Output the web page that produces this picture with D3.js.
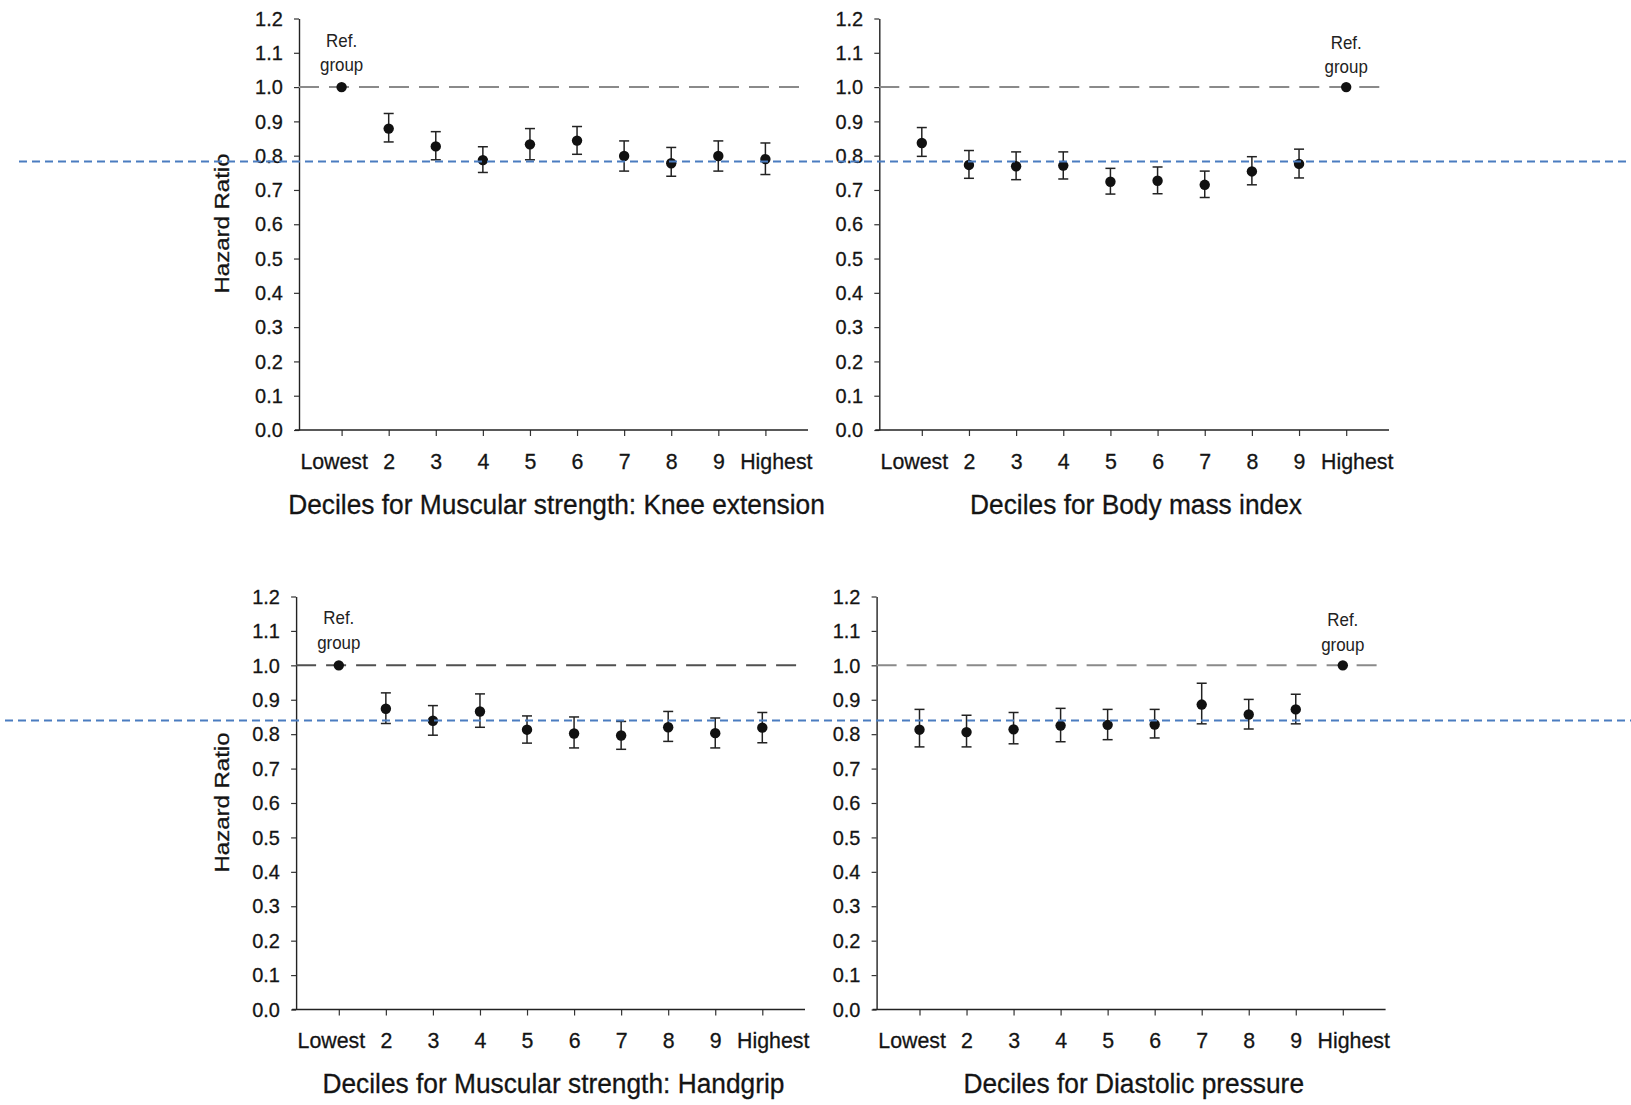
<!DOCTYPE html>
<html><head><meta charset="utf-8">
<script src="https://cdn.jsdelivr.net/npm/d3@7"></script>
<style>body{margin:0;background:#fff} svg{display:block;background:#fff}</style>
</head><body><svg id="c" width="1631" height="1105"></svg>
<script>
// ---------- data ----------
const deciles = ["Lowest","2","3","4","5","6","7","8","9","Highest"];
const yTicks = [0,0.1,0.2,0.3,0.4,0.5,0.6,0.7,0.8,0.9,1.0,1.1,1.2];

const kneeHR = [1.00, 0.879, 0.827, 0.787, 0.833, 0.844, 0.799, 0.778, 0.799, 0.790];
const kneeLo = [null, 0.840, 0.788, 0.751, 0.788, 0.804, 0.755, 0.740, 0.755, 0.745];
const kneeHi = [null, 0.923, 0.870, 0.826, 0.879, 0.885, 0.843, 0.824, 0.843, 0.837];

const bmiHR = [0.837, 0.773, 0.769, 0.771, 0.724, 0.727, 0.715, 0.754, 0.776, 1.00];
const bmiLo = [0.798, 0.734, 0.730, 0.732, 0.688, 0.689, 0.678, 0.715, 0.735, null];
const bmiHi = [0.882, 0.815, 0.811, 0.811, 0.763, 0.767, 0.755, 0.797, 0.819, null];

const handHR = [1.00, 0.874, 0.839, 0.866, 0.813, 0.802, 0.796, 0.820, 0.803, 0.819];
const handLo = [null, 0.831, 0.797, 0.820, 0.774, 0.760, 0.756, 0.779, 0.760, 0.775];
const handHi = [null, 0.920, 0.883, 0.917, 0.853, 0.850, 0.837, 0.866, 0.847, 0.863];

const diaHR = [0.813, 0.806, 0.814, 0.825, 0.827, 0.828, 0.886, 0.857, 0.872, 1.00];
const diaLo = [0.763, 0.763, 0.772, 0.778, 0.784, 0.789, 0.830, 0.815, 0.830, null];
const diaHi = [0.872, 0.855, 0.863, 0.875, 0.872, 0.872, 0.948, 0.901, 0.916, null];

const titles = ["Deciles for Muscular strength: Knee extension", "Deciles for Body mass index",
                "Deciles for Muscular strength: Handgrip", "Deciles for Diastolic pressure"];
const refIndex = [0, 9, 0, 9];
const yTitle = "Hazard Ratio";
const refLabel = ["Ref.", "group"];
const blueRefTop = 0.783;
const blueRefBottom = 0.84;

// ---------- layout ----------
const FONT = "'Liberation Sans', Arial, Helvetica, sans-serif";
const layout = [
  {ax:299,   y0:430,    y12:18.5,  xL:341.6, xH:765.4,  xR:808,    gEnd:803,    gCol:"#8a8a8a", tx:556.5, ty:514,  refDy:[-40.5,-16], yt:[229,223.5]},
  {ax:879.3, y0:430,    y12:18.5,  xL:921.8, xH:1346.2, xR:1389,   gEnd:1382.6, gCol:"#8a8a8a", tx:1136,  ty:514,  refDy:[-38,-14.5]},
  {ax:296.1, y0:1009.5, y12:596.5, xL:338.8, xH:762.3,  xR:805,    gEnd:800,    gCol:"#505050", tx:553.4, ty:1093, refDy:[-41.5,-16.3], yt:[228.5,802.5]},
  {ax:876.6, y0:1009.5, y12:596.5, xL:919.5, xH:1342.8, xR:1385.6, gEnd:1379.5, gCol:"#8a8a8a", tx:1133.7,ty:1093, refDy:[-38.9,-14.6]}
];
const series = [[kneeHR,kneeLo,kneeHi],[bmiHR,bmiLo,bmiHi],[handHR,handLo,handHi],[diaHR,diaLo,diaHi]];

const svg = d3.select("#c");
svg.append("rect").attr("width",1631).attr("height",1105).attr("fill","#fff");
const yScales = [];
const TXT = "#141414";

layout.forEach((L, p) => {
  const [hr, lo, hi] = series[p];
  const y = d3.scaleLinear().domain([0, 1.2]).range([L.y0, L.y12]);
  const x = d3.scalePoint().domain(deciles).range([L.xL, L.xH]);
  yScales.push(y);
  const g = svg.append("g");

  // y axis
  const gy = g.append("g").attr("transform", `translate(${L.ax},0)`)
    .call(d3.axisLeft(y).tickValues(yTicks).tickFormat(d3.format(".1f")).tickSize(5).tickPadding(12).tickSizeOuter(0));
  gy.select(".domain").attr("stroke", "#222").attr("stroke-width", 1.4);
  gy.selectAll(".tick line").attr("stroke", "#333").attr("stroke-width", 1.2);
  gy.selectAll(".tick text").attr("font-family", FONT).attr("font-size", 21).attr("fill", TXT)
    .attr("stroke", TXT).attr("stroke-width", 0.3)
    .attr("transform", "scale(0.95,1)");

  // x axis
  const gx = g.append("g").attr("transform", `translate(0,${y(0)})`)
    .call(d3.axisBottom(x).tickSize(6).tickPadding(17).tickSizeOuter(0));
  gx.select(".domain").remove();
  gx.append("line").attr("x1", L.ax - 4).attr("x2", L.xR).attr("y1", 0).attr("y2", 0)
    .attr("stroke", "#222").attr("stroke-width", 1.4);
  gx.selectAll(".tick line").attr("stroke", "#333").attr("stroke-width", 1.2);
  gx.selectAll(".tick text").attr("font-family", FONT).attr("font-size", 22).attr("fill", TXT)
    .attr("stroke", TXT).attr("stroke-width", 0.3)
    .attr("transform", "scale(0.97,1)")
    .attr("dx", (d, i) => i === 0 ? -8.2 : (i === deciles.length - 1 ? 10.8 : 0));

  // reference line at HR = 1
  g.append("line").attr("x1", L.ax).attr("x2", L.gEnd).attr("y1", y(1)).attr("y2", y(1))
    .attr("stroke", L.gCol).attr("stroke-width", 2).attr("stroke-dasharray", "20,10");

  // error bars
  const eb = g.append("g").attr("stroke", "#222").attr("stroke-width", 1.5);
  deciles.forEach((d, i) => {
    if (lo[i] == null) return;
    const cx = x(d);
    eb.append("line").attr("x1", cx).attr("x2", cx).attr("y1", y(lo[i])).attr("y2", y(hi[i]));
    eb.append("line").attr("x1", cx - 5).attr("x2", cx + 5).attr("y1", y(lo[i])).attr("y2", y(lo[i]));
    eb.append("line").attr("x1", cx - 5).attr("x2", cx + 5).attr("y1", y(hi[i])).attr("y2", y(hi[i]));
  });

  // points
  g.append("g").selectAll("circle").data(deciles).join("circle")
    .attr("cx", d => x(d)).attr("cy", (d, i) => y(hr[i])).attr("r", 5.2).attr("fill", "#111");

  // ref group label
  const rx = x(deciles[refIndex[p]]);
  refLabel.forEach((t, k) => {
    g.append("text").attr("transform", `translate(${rx},${y(1) + L.refDy[k]}) scale(0.94,1)`)
      .attr("text-anchor", "middle").attr("font-family", FONT).attr("font-size", 18).attr("fill", "#222").text(t);
  });

  // x title
  g.append("text").attr("transform", `translate(${L.tx},${L.ty}) scale(0.94,1)`)
    .attr("text-anchor", "middle").attr("font-family", FONT).attr("font-size", 28).attr("fill", TXT)
    .attr("stroke", TXT).attr("stroke-width", 0.3)
    .text(titles[p]);

  // y title
  if (L.yt) {
    g.append("text").attr("transform", `translate(${L.yt[0]},${L.yt[1]}) scale(0.95,1) rotate(-90)`)
      .attr("text-anchor", "middle").attr("font-family", FONT).attr("font-size", 21).attr("fill", TXT)
      .attr("stroke", TXT).attr("stroke-width", 0.3)
      .attr("textLength", 140).attr("lengthAdjust", "spacingAndGlyphs")
      .text(yTitle);
  }
});

// blue dashed guide lines across the full figure
svg.append("line").attr("x1", 19).attr("x2", 1631).attr("y1", yScales[0](blueRefTop)).attr("y2", yScales[0](blueRefTop))
  .attr("stroke", "#4a7cc0").attr("stroke-width", 2).attr("stroke-dasharray", "8,5");
svg.append("line").attr("x1", 5).attr("x2", 1631).attr("y1", yScales[2](blueRefBottom)).attr("y2", yScales[2](blueRefBottom))
  .attr("stroke", "#4a7cc0").attr("stroke-width", 2).attr("stroke-dasharray", "8,5");
</script></body></html>
